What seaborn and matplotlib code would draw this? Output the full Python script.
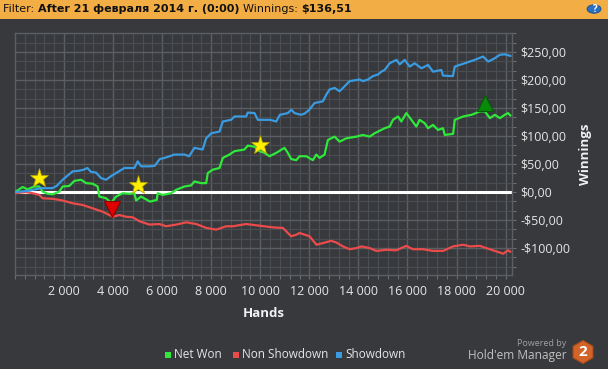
import numpy as np
import pandas as pd
import matplotlib
matplotlib.use("Agg")
import matplotlib.pyplot as plt
from matplotlib.ticker import MultipleLocator, FuncFormatter
from matplotlib.patches import Rectangle, Polygon, Circle
import seaborn as sns

# ---------------- data ----------------
net_hands = [0, 310, 514, 787, 991, 1126, 1330, 1534, 1807, 1942, 2215, 2419, 2693, 2897, 3166, 3370,
             3439, 3713, 3917, 4121, 4390, 4663, 4868, 4936, 5141, 5503, 5777, 5818, 6022, 6365, 6569,
             6907, 7181, 7315, 7589, 7793, 7858, 8062, 8335, 8470, 8743, 8947, 9355, 9489, 9763, 9967,
             10171, 10375, 10649, 10987, 11121, 11261, 11465, 11599, 11873, 12143, 12281, 12415, 12619,
             12755, 13027, 13233, 13505, 13913, 14183, 14457, 14661, 14933, 15069, 15273, 15409, 15613,
             15749, 15953, 16157, 16361, 16495, 16701, 16837, 17039, 17243, 17447, 17519, 17859, 17927,
             18268, 18612, 18950, 19153, 19360, 19563, 19767, 19963, 20098, 20200]
net_won = [0, 9, 5, 10, 10, 1, -3, -4, 1, 10, 11, 20, 22, 16, 15, 10,
           -8, -11, -19, -8, -2, -3, -2, -15, -8, -17, -14, -2, -5, -2, 4,
           10, 12, 19, 16, 16, 34, 40, 43, 61, 67, 73, 76, 83, 81, 73,
           70, 64, 70, 79, 70, 59, 57, 64, 64, 57, 67, 61, 67,
           93, 99, 90, 96, 99, 102, 99, 105, 111, 114, 117, 129, 135,
           126, 141, 129, 117, 129, 123, 114, 120, 111, 114, 102, 104, 129,
           135, 138, 144, 144, 132, 138, 132, 138, 141, 136.51]

sd_hands = [0, 500, 1061, 1522, 1700, 1942, 2350, 2600, 2800, 2950, 3100, 3300, 3509, 3713, 3900, 4121,
            4460, 4868, 5002, 5141, 5500, 5700, 5900, 6100, 6500, 6907, 7100, 7315, 7650, 7793, 8000,
            8335, 8470, 8810, 8947, 9420, 9489, 9763, 9900, 10171, 10400, 10649, 10800, 11121, 11261,
            11400, 11650, 11800, 12000, 12210, 12550, 12690, 12820, 13030, 13230, 13440, 13640, 14050,
            14183, 14390, 14590, 14800, 14933, 15069, 15273, 15550, 15680, 15885, 16090, 16290, 16570,
            16840, 17040, 17380, 17447, 17850, 17927, 18330, 18740, 19080, 19290, 19560, 19760, 19970, 20200]
showdown = [0, 2, 7, 7, 11, 22, 37, 38, 40, 43, 36, 35, 25, 22, 28, 34,
            43, 43, 55, 46, 46, 47, 59, 61, 67, 67, 64, 79, 76, 96, 105,
            108, 126, 129, 135, 135, 142, 141, 129, 129, 129, 126, 138, 141, 147,
            141, 138, 140, 147, 159, 162, 174, 183, 186, 180, 189, 198, 201,
            198, 201, 207, 210, 215, 218, 230, 236, 228, 236, 224, 230, 221,
            227, 215, 218, 208, 207, 224, 230, 236, 242, 233, 239, 245, 246, 243]

nsd_hands = [0, 450, 718, 991, 1126, 1534, 1942, 2350, 2760, 3166, 3575, 3983, 4255, 4530, 4800, 5070,
             5480, 5890, 6160, 6570, 6980, 7390, 7800, 8200, 8610, 8880, 9420, 9967, 10510, 10920, 11260,
             11470, 11600, 12010, 12290, 12550, 12890, 13100, 13370, 13640, 13910, 14120, 14460, 14730,
             15140, 15540, 15950, 16220, 16630, 17040, 17450, 17860, 18270, 18540, 18950, 19280, 19630,
             19900, 20100, 20200]
non_showdown = [-2, 0, -2, -5, -11, -12, -15, -20, -23, -29, -35, -44, -41, -44, -45, -52,
                -58, -57, -61, -58, -54, -57, -64, -67, -61, -61, -57, -60, -63, -64, -79,
                -76, -73, -79, -94, -91, -87, -90, -97, -102, -100, -97, -100, -105,
                -103, -104, -96, -102, -102, -105, -105, -97, -94, -97, -96, -101, -106,
                -110, -104, -106.5]

star_hands = [991, 5002, 9967]
star_vals = [25, 13, 84]
low_hand, low_val = [3957], [-31]
high_hand, high_val = [19153], [159]

series_names = ["Net Won", "Non Showdown", "Showdown"]
series_colors = ["#2ee83a", "#ec4b4b", "#3a9be0"]
y_ticks = [-100, -50, 0, 50, 100, 150, 200, 250]
x_ticks = [2000, 4000, 6000, 8000, 10000, 12000, 14000, 16000, 18000, 20000]

# ---------------- style ----------------
BG = "#37393d"
W, H = 608, 369
sns.set_theme(style="dark", rc={"axes.facecolor": BG, "figure.facecolor": BG})
plt.rcParams["font.family"] = ["Open Sans", "DejaVu Sans"]

fig = plt.figure(figsize=(6.08, 3.69), dpi=100)
fig.patch.set_facecolor(BG)
ax = fig.add_axes([15 / W, 1 - 275 / H, (512 - 15) / W, (275 - 33) / H])
ax.set_facecolor(BG)

frames = []
for name, h, v in [("Net Won", net_hands, net_won),
                   ("Non Showdown", nsd_hands, non_showdown),
                   ("Showdown", sd_hands, showdown)]:
    frames.append(pd.DataFrame({"Hands": h, "Winnings": v, "Series": name}))
df = pd.concat(frames, ignore_index=True)

ax.axhline(0, color="white", lw=2.2, zorder=2)
sns.lineplot(data=df, x="Hands", y="Winnings", hue="Series", hue_order=series_names,
             palette=series_colors, lw=1.6, legend=False, ax=ax, zorder=3)

ax.plot(star_hands, star_vals, ls="none", marker="*", ms=14, color="#ffee00",
        mec="#b8a800", mew=0.5, zorder=5)
ax.plot(low_hand, low_val, ls="none", marker="v", ms=11, color="#e00000", mec="#900000", mew=0.8, zorder=5)
ax.plot(high_hand, high_val, ls="none", marker="^", ms=11, color="#0a8a0a", mec="#065a06", mew=0.8, zorder=5)

ax.set_xlim(0, 20260)
ax.set_ylim(-148, 284)

ax.xaxis.set_major_locator(MultipleLocator(2000))
ax.xaxis.set_minor_locator(MultipleLocator(400))
ax.yaxis.set_major_locator(MultipleLocator(50))
ax.yaxis.set_minor_locator(MultipleLocator(50 / 3))
ax.grid(True, which="major", color="#5b5e62", lw=1.0, zorder=0)
ax.grid(True, which="minor", color="#4a4d51", lw=0.8, zorder=0)
ax.set_axisbelow(True)

ax.yaxis.tick_right()
ax.yaxis.set_label_position("right")


def yfmt(v, pos):
    s = f"${abs(v):.2f}".replace(".", ",")
    return ("-" + s) if v < 0 else s


def xfmt(v, pos):
    return f"{int(v):,}".replace(",", " ")


ax.yaxis.set_major_formatter(FuncFormatter(yfmt))
ax.xaxis.set_major_formatter(FuncFormatter(xfmt))
ax.set_xticks(x_ticks)
ax.set_yticks(y_ticks)
ax.tick_params(axis="both", which="both", colors="#6a6d71", labelcolor="#e6e6e6",
               labelsize=9, length=3, width=0.8, direction="out")
ax.tick_params(axis="x", which="both", bottom=True, pad=4)
ax.tick_params(axis="y", which="both", right=True, left=False, pad=3)
for sp in ax.spines.values():
    sp.set_color("#5b5e62")
    sp.set_linewidth(1.0)

ax.set_xlabel("Hands", color="#f0f0f0", fontsize=9.5, fontweight="bold", labelpad=7)
ax.set_ylabel("Winnings", color="#f0f0f0", fontsize=9.5, fontweight="bold", labelpad=6)

# ---------------- header bar ----------------
fig.add_artist(Rectangle((0, 1 - 19 / H), 1, 19 / H, transform=fig.transFigure,
                         facecolor="#f3ad45", edgecolor="none", zorder=0))
fig.canvas.draw()
renderer = fig.canvas.get_renderer()
xpos = 3 / W
ypos = 1 - 9.5 / H
for txt, wt in [("Filter: ", "normal"), ("After 21 февраля 2014 г. (0:00) ", "bold"),
                ("Winnings: ", "normal"), ("$136,51", "bold")]:
    t = fig.text(xpos, ypos, txt, fontsize=8, fontweight=wt, color="#111111",
                 va="center", ha="left", family=["DejaVu Sans"])
    bb = t.get_window_extent(renderer=renderer)
    xpos += bb.width / W
fig.add_artist(Circle((594 / W, 1 - 9 / H), 0.0115, transform=fig.transFigure,
                      facecolor="#2a6fc0", edgecolor="#1b4c88", lw=0.6))
fig.text(594 / W, 1 - 9 / H, "?", color="white", fontsize=7, fontweight="bold",
         ha="center", va="center")

# ---------------- legend ----------------
leg_items = [(165, 174, "Net Won", series_colors[0]),
             (233, 242, "Non Showdown", series_colors[1]),
             (336, 345, "Showdown", series_colors[2])]
for sx, tx, lab, col in leg_items:
    fig.add_artist(Rectangle((sx / W, 1 - 358 / H), 6 / W, 6 / H, transform=fig.transFigure,
                             facecolor=col, edgecolor="none"))
    fig.text(tx / W, 1 - 355 / H, lab, color="#e6e6e6", fontsize=8.5, ha="left", va="center")

# ---------------- branding ----------------
fig.text(566 / W, 1 - 344 / H, "Powered by", color="#a0a0a0", fontsize=6.5, ha="right", va="center")
fig.text(567 / W, 1 - 356 / H, "Hold'em Manager", color="#c0c0c0", fontsize=8.6, ha="right", va="center")
cx, cy, r = 583, 352, 11.5
ang = np.deg2rad(np.arange(90, 450, 60))
verts = [((cx + r * np.cos(a)) / W, 1 - (cy - r * np.sin(a)) / H) for a in ang]
fig.add_artist(Polygon(verts, closed=True, transform=fig.transFigure,
                       facecolor="#d2642a", edgecolor="#a84a1c", lw=0.8))
fig.text(cx / W, 1 - cy / H, "2", color="white", fontsize=11, fontweight="bold",
         ha="center", va="center")

fig.savefig("out.png", dpi=100, facecolor=BG)
